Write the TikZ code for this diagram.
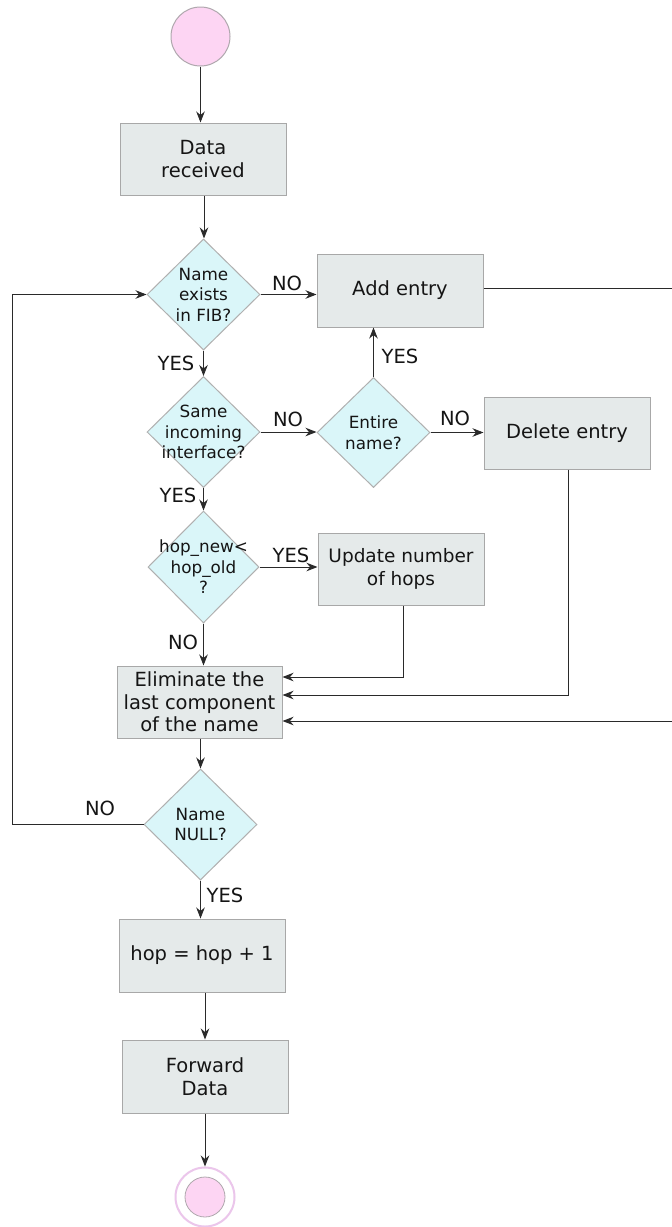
\documentclass[tikz,border=0pt]{standalone}
\usepackage{fontspec}
\setmainfont{DejaVu Sans}
\usetikzlibrary{shapes.geometric,arrows.meta,calc}
\definecolor{boxfill}{HTML}{E5EAEA}
\definecolor{boxline}{HTML}{A8A8A8}
\definecolor{diafill}{HTML}{DAF6F9}
\definecolor{dialine}{HTML}{B0B0B0}
\definecolor{pinkfill}{HTML}{FDD5F3}
\definecolor{pinkring}{HTML}{EBC6EB}
\definecolor{circline}{HTML}{B0A8AE}
\definecolor{lnc}{HTML}{2A2A2A}
\definecolor{txt}{HTML}{151515}
\begin{document}
\begin{tikzpicture}[x=1pt,y=-1pt,
  box/.style={draw=boxline,fill=boxfill,line width=1pt,rectangle,inner sep=0pt,
    minimum width=166pt,minimum height=72pt,align=center,text=txt,
    font=\fontsize{19.5}{22.5}\selectfont},
  dia/.style={draw=dialine,fill=diafill,line width=1pt,diamond,inner sep=0pt,
    minimum width=113pt,minimum height=111pt},
  dtext/.style={align=center,text=txt,font=\fontsize{16.8}{20.5}\selectfont},
  lab/.style={text=txt,inner sep=0pt,font=\fontsize{19.5}{22}\selectfont},
  arr/.style={draw=lnc,line width=1pt,-{Stealth[length=11pt,width=8.5pt,inset=3.5pt]}},
  ln/.style={draw=lnc,line width=1pt}]
\useasboundingbox (0,0) rectangle (672,1227);
\fill[white] (0,0) rectangle (672,1227);

% nodes
\node[circle,draw=circline,fill=pinkfill,line width=1pt,minimum size=59pt,inner sep=0pt] (start) at (200.5,36.5) {};
\node[box] (recv) at (203,159) {Data\\received};
\node[dia,label={[dtext]center:Name\\exists\\in FIB?}] (d1) at (203.5,294.5) {};
\node[box,minimum height=73pt] (add) at (400,290.5) {Add entry};
\node[dia,label={[dtext]center:Same\\incoming\\interface?}] (d2) at (203.5,432) {};
\node[dia,minimum height=110pt,label={[dtext]center:Entire\\name?}] (d3) at (373.5,432.5) {};
\node[box] (del) at (567,433) {Delete entry};
\node[dia,minimum width=111pt,minimum height=112pt,label={[dtext]center:hop\_new<\\hop\_old\\?}] (d4) at (203.5,567) {};
\node[box,font=\fontsize{18.5}{22.5}\selectfont] (upd) at (401,569) {Update number\\of hops};
\node[box,minimum width=165pt] (elim) at (199.5,702) {Eliminate the\\last component\\of the name};
\node[dia,label={[dtext]center:Name\\NULL?}] (d5) at (200.5,824.5) {};
\node[box,minimum height=73pt] (hop) at (202,955.5) {hop = hop + 1};
\node[box,minimum height=73pt] (fwd) at (205,1076.5) {Forward\\Data};
\node[circle,draw=pinkring,line width=2pt,fill=white,minimum size=59pt,inner sep=0pt] (end) at (205,1197) {};
\node[circle,draw=circline,fill=pinkfill,line width=0.8pt,minimum size=40pt,inner sep=0pt] (endin) at (end.center) {};

% connectors
\draw[arr] (start.south) -- (start.south |- recv.north);
\draw[arr] ($(recv.south)+(1,0)$) -- ($(recv.south |- d1.north)+(1,0)$);
\draw[arr] (d1.east) -- (d1.east -| add.west);
\draw[arr] (d1.south) -- (d2.north);
\draw[arr] (d2.east) -- (d2.east -| d3.west);
\draw[arr] (d3.north) -- (d3.north |- add.south);
\draw[arr] (d3.east) -- (d3.east -| del.west);
\draw[arr] (d2.south) -- (d4.north);
\draw[arr] (d4.east) -- (d4.east -| upd.west);
\draw[arr] (d4.south) -- (d4.south |- elim.north);
\draw[arr] ($(upd.south)+(2,0)$) |- ($(elim.east)+(0,-25)$);
\draw[arr] ($(del.south)+(1,0)$) |- ($(elim.east)+(0,-7)$);
\draw[arr] ($(add.east)+(0,-2)$) -- ++(200,0) |- ($(elim.east)+(0,19)$);
\draw[arr] (d5.north |- elim.south) -- (d5.north);
\draw[arr] (d5.west) -- ++(-131,0) |- (d1.west);
\draw[arr] (d5.south) -- (d5.south |- hop.north);
\draw[arr] (fwd.north |- hop.south) -- (fwd.north);
\draw[arr] (fwd.south) -- (end.north);

% labels
\node[lab] (l1) at (287,283) {NO};
\node[lab] (l2) at (176,363) {YES};
\node[lab] (l3) at (288,419) {NO};
\node[lab] (l4) at (455,418) {NO};
\node[lab] (l5) at (400,356) {YES};
\node[lab] (l6) at (178,495) {YES};
\node[lab] (l7) at (291,555) {YES};
\node[lab] (l8) at (183,642) {NO};
\node[lab] (l9) at (100,808) {NO};
\node[lab] (l10) at (225,895) {YES};
\end{tikzpicture}
\end{document}
